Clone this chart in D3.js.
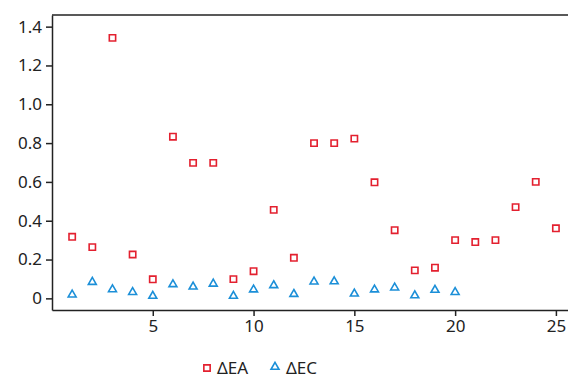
<!DOCTYPE html>
<html>
<head>
<meta charset="utf-8">
<script src="https://cdn.jsdelivr.net/npm/d3@7"></script>
<style>
  body { margin: 0; background: #fff; }
  svg text { font-family: "Noto Sans", "Open Sans", sans-serif; fill: #222; }
  .axis path, .axis line { stroke: #222; stroke-width: 1.5; }
</style>
</head>
<body>
<svg id="chart" width="568" height="379"></svg>
<script>
// data
var samples = d3.range(1, 26);
var deltaEA = [0.317, 0.264, 1.342, 0.226, 0.098, 0.833, 0.698, 0.698, 0.099, 0.14,
               0.456, 0.209, 0.80, 0.80, 0.823, 0.598, 0.351, 0.144, 0.158, 0.30,
               0.29, 0.30, 0.47, 0.60, 0.361];
var deltaEC = [0.019, 0.084, 0.046, 0.032, 0.012, 0.072, 0.06, 0.075, 0.012, 0.045,
               0.067, 0.022, 0.086, 0.087, 0.024, 0.045, 0.055, 0.015, 0.043, 0.032];
var yTicks = [0, 0.2, 0.4, 0.6, 0.8, 1.0, 1.2, 1.4];
var xTicks = [5, 10, 15, 20, 25];
var seriesNames = ["\u0394EA", "\u0394EC"];

var RED = "#e3202f", BLUE = "#1b8fd8";

var svg = d3.select("#chart"),
    MARGINS = { top: 15, right: 0, bottom: 69, left: 52 },
    WIDTH = 568, HEIGHT = 379;

var xScale = d3.scaleLinear().domain([0, 25.6]).range([MARGINS.left, WIDTH - MARGINS.right]),
    yScale = d3.scaleLinear().domain([-0.06, 1.46]).range([HEIGHT - MARGINS.bottom, MARGINS.top]);

// x axis
var gx = svg.append("g")
   .attr("class", "axis")
   .attr("transform", "translate(0," + (HEIGHT - MARGINS.bottom) + ")")
   .call(d3.axisBottom(xScale).tickValues(xTicks).tickSize(6).tickSizeOuter(0).tickPadding(4));
gx.selectAll("text").style("font-size", "17px");

// y axis
var gy = svg.append("g")
   .attr("class", "axis")
   .attr("transform", "translate(" + MARGINS.left + ",0)")
   .call(d3.axisLeft(yScale).tickValues(yTicks).tickSize(6).tickSizeOuter(0).tickPadding(4)
         .tickFormat(function(d) { return d === 0 ? "0" : d3.format(".1f")(d); }));
gy.selectAll("text").style("font-size", "17px");

// top frame line
svg.append("line")
   .attr("x1", xScale.range()[0]).attr("x2", xScale.range()[1])
   .attr("y1", MARGINS.top).attr("y2", MARGINS.top)
   .attr("stroke", "#222").attr("stroke-width", 1.5);

var square = d3.symbol().type(d3.symbolSquare).size(40);
var triangle = d3.symbol().type(d3.symbolTriangle2).size(45);

// delta EA squares
svg.append("g").selectAll("path")
   .data(deltaEA).enter().append("path")
   .attr("d", square)
   .attr("transform", function(d, i) { return "translate(" + xScale(samples[i]) + "," + yScale(d) + ")"; })
   .attr("fill", "none").attr("stroke", RED).attr("stroke-width", 1.6);

// delta EC triangles
svg.append("g").selectAll("path")
   .data(deltaEC).enter().append("path")
   .attr("d", triangle)
   .attr("transform", function(d, i) { return "translate(" + xScale(samples[i]) + "," + yScale(d) + ")"; })
   .attr("fill", "none").attr("stroke", BLUE).attr("stroke-width", 1.6);

// legend
var legend = svg.append("g").attr("transform", "translate(0,368)");
legend.append("path").attr("d", square)
   .attr("transform", "translate(207,0)")
   .attr("fill", "none").attr("stroke", RED).attr("stroke-width", 1.6);
legend.append("text").attr("x", 217).attr("y", 6).style("font-size", "17px").text(seriesNames[0]);
legend.append("path").attr("d", triangle)
   .attr("transform", "translate(275,-1)")
   .attr("fill", "none").attr("stroke", BLUE).attr("stroke-width", 1.6);
legend.append("text").attr("x", 286).attr("y", 6).style("font-size", "17px").text(seriesNames[1]);
</script>
</body>
</html>
